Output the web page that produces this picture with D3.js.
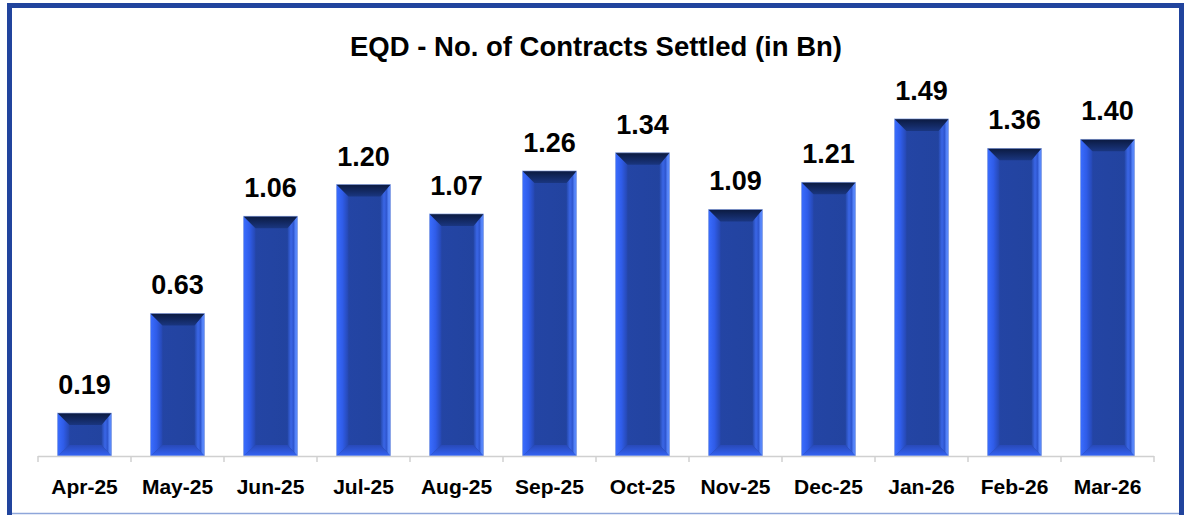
<!DOCTYPE html>
<html><head><meta charset="utf-8">
<script src="https://cdn.jsdelivr.net/npm/d3@7"></script>
<style>body{margin:0;background:#fff;}svg{display:block;}</style>
</head><body>
<svg id="c" width="1184" height="515"></svg>
<script>
const categories = ["Apr-25","May-25","Jun-25","Jul-25","Aug-25","Sep-25","Oct-25","Nov-25","Dec-25","Jan-26","Feb-26","Mar-26"];
const values = [0.19,0.63,1.06,1.20,1.07,1.26,1.34,1.09,1.21,1.49,1.36,1.40];
const valueLabels = ["0.19","0.63","1.06","1.20","1.07","1.26","1.34","1.09","1.21","1.49","1.36","1.40"];
const title = "EQD - No. of Contracts Settled (in Bn)";

const svg = d3.select("#c");
const W = 1184, H = 515;
const font = "'Liberation Sans', Arial, sans-serif";

// frame
svg.append("rect").attr("x",0).attr("y",0).attr("width",W).attr("height",H).attr("fill","#fff");
svg.append("line").attr("x1",9).attr("x2",1182).attr("y1",513.5).attr("y2",513.5).attr("stroke","#8EA6DA").attr("stroke-width",1.5);
svg.append("path").attr("d","M9.5,515 L9.5,5.5 L1181.5,5.5 L1181.5,515").attr("fill","none").attr("stroke","#21449D").attr("stroke-width",5);

const x = d3.scaleBand().domain(categories).range([38,1154]).paddingInner(0.42).paddingOuter(0.21);
const y = d3.scaleLinear().domain([0,1.6]).range([456,94]);

const defs = svg.append("defs");
function lg(id, x1,y1,x2,y2, stops){
  const g = defs.append("linearGradient").attr("id",id).attr("x1",x1).attr("y1",y1).attr("x2",x2).attr("y2",y2);
  stops.forEach(s=>g.append("stop").attr("offset",s[0]).attr("stop-color",s[1]));
}
lg("gTop",0,0,0,1,[[0,"#0B1A40"],[1,"#1A3680"]]);
lg("gLeft",0,0,1,0,[[0,"#3A6DFF"],[0.5,"#2F5CE8"],[1,"#2547B0"]]);
lg("gRight",0,0,1,0,[[0,"#2447A8"],[0.35,"#3A66E6"],[0.6,"#2F57D0"],[0.85,"#5C8CFF"],[1,"#4C7BF2"]]);
lg("gBot",0,0,0,1,[[0,"#2849B8"],[1,"#3463F4"]]);
lg("gMid",0,0,1,0,[[0,"#2445A6"],[1,"#22439E"]]);

const g = svg.append("g");
categories.forEach((c,i)=>{
  const x0 = x(c), x1 = x0 + x.bandwidth();
  const y0 = y(values[i]), y1 = y(0);
  const h = y1 - y0;
  const bt = Math.min(12, h/2), bb = Math.min(11, h/2), bl = 12, br = 10;
  const bar = g.append("g");
  bar.append("rect").attr("x",x0).attr("y",y0).attr("width",x1-x0).attr("height",h).attr("fill","url(#gMid)");
  bar.append("polygon").attr("points",[[x0,y0],[x0+bl,y0+bt],[x0+bl,y1-bb],[x0,y1]].join(" ")).attr("fill","url(#gLeft)");
  bar.append("polygon").attr("points",[[x1,y0],[x1-br,y0+bt],[x1-br,y1-bb],[x1,y1]].join(" ")).attr("fill","url(#gRight)");
  bar.append("polygon").attr("points",[[x0,y1],[x0+bl,y1-bb],[x1-br,y1-bb],[x1,y1]].join(" ")).attr("fill","url(#gBot)");
  bar.append("polygon").attr("points",[[x0,y0],[x1,y0],[x1-br,y0+bt],[x0+bl,y0+bt]].join(" ")).attr("fill","url(#gTop)");
  bar.append("rect").attr("x",x0).attr("y",y0).attr("width",x1-x0).attr("height",h).attr("fill","none").attr("stroke","#9DB4EC").attr("stroke-width",0.6);
  g.append("text").attr("x",(x0+x1)/2).attr("y",y0-19).attr("text-anchor","middle")
    .attr("font-family",font).attr("font-weight","bold").attr("font-size",27).attr("fill","#000").text(valueLabels[i]);
});

// x axis
const ax = svg.append("g").attr("transform","translate(0,456)");
ax.append("line").attr("x1",38).attr("x2",1154).attr("y1",0.5).attr("y2",0.5).attr("stroke","#D0D0D0").attr("stroke-width",1.5);
d3.range(13).forEach(k=>{
  const xx = 38 + k*(1116/12);
  ax.append("line").attr("x1",xx).attr("x2",xx).attr("y1",0).attr("y2",6).attr("stroke","#D0D0D0").attr("stroke-width",1.5);
});
categories.forEach(c=>{
  ax.append("text").attr("x",x(c)+x.bandwidth()/2).attr("y",38).attr("text-anchor","middle")
    .attr("font-family",font).attr("font-weight","bold").attr("font-size",21).attr("fill","#000").text(c);
});

svg.append("text").attr("x",596).attr("y",56).attr("text-anchor","middle").attr("font-family",font)
  .attr("font-weight","bold").attr("font-size",27.5).attr("fill","#000").text(title);
</script>
</body></html>
